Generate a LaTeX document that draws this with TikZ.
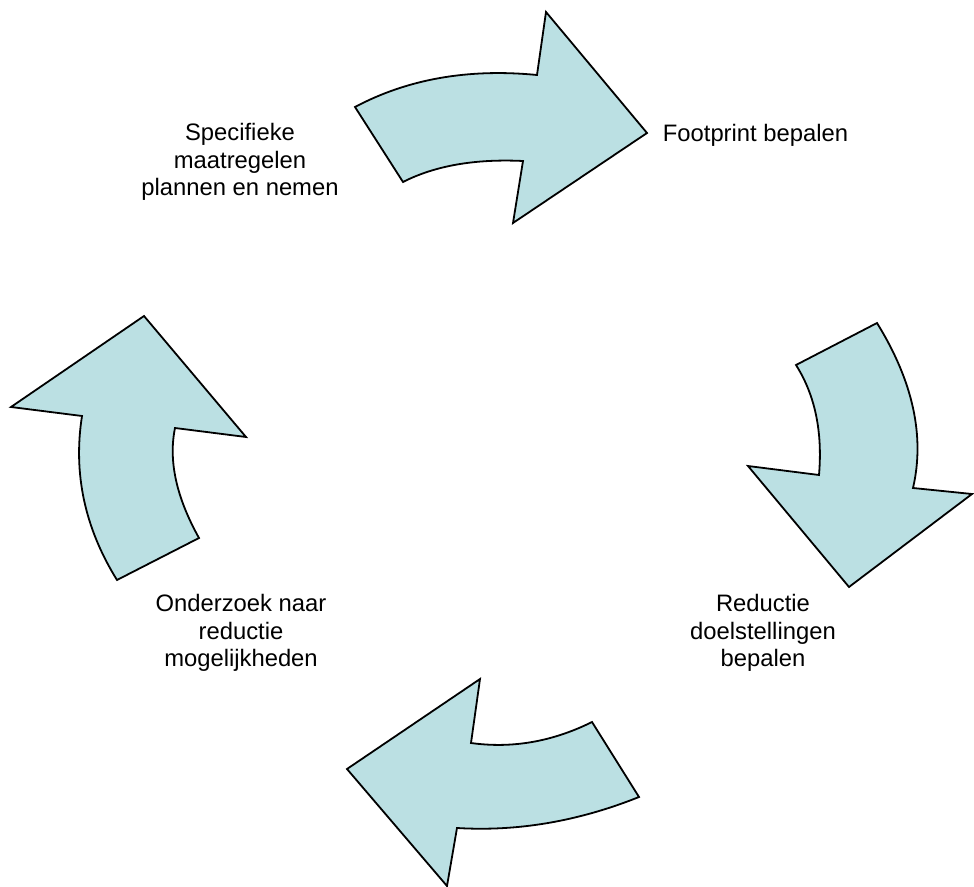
\documentclass[tikz,border=0pt]{standalone}
\usepackage{fontspec}
\setmainfont{Liberation Sans}
\definecolor{arrowfill}{RGB}{187,224,227}
\begin{document}
\begin{tikzpicture}[x=0.5pt,y=-0.5pt,
  cyclearrow/.style={fill=arrowfill,draw=black,line width=0.9pt,line join=miter},
  label/.style={align=center,font=\fontsize{11.9}{13.8}\selectfont,inner sep=0pt}]
\useasboundingbox (0,0) rectangle (974,887);
% top arrow (pointing right)
\draw[cyclearrow] (355,107) .. controls (407.7,79) and (468.3,68.3) .. (537,75)
  -- (546,12) -- (647,133) -- (513,223) -- (523,161)
  .. controls (475,158.7) and (435,165.7) .. (403,182) -- cycle;
% right arrow (pointing down)
\draw[cyclearrow] (796,365) -- (877,323) .. controls (913,381.3) and (925,436.3) .. (913,488)
  -- (972,494) -- (849,587) -- (748,466) -- (819,475)
  .. controls (822.7,431.7) and (815,395) .. (796,365) -- cycle;
% bottom arrow (pointing left)
\draw[cyclearrow] (592,722) -- (639,797) .. controls (578.3,821.3) and (517.7,831.7) .. (457,828)
  -- (447,886) -- (347,769) -- (480,679) -- (471,743)
  .. controls (512,748.7) and (552.3,741.7) .. (592,722) -- cycle;
% left arrow (pointing up)
\draw[cyclearrow] (117,580) -- (199,538) .. controls (176.3,497.3) and (168.3,460.7) .. (175,428)
  -- (246,437) -- (144,316) -- (11,407) -- (82,416)
  .. controls (73,473.3) and (84.7,528) .. (117,580) -- cycle;
% labels
\node[label] (spec) at (240,162) {Specifieke\\maatregelen\\plannen en nemen};
\node[label] (foot) at (755.5,135) {Footprint bepalen};
\node[label] (red) at (763,633) {Reductie\\doelstellingen\\bepalen};
\node[label] (ond) at (241,633) {Onderzoek naar\\reductie\\mogelijkheden};
\end{tikzpicture}
\end{document}
